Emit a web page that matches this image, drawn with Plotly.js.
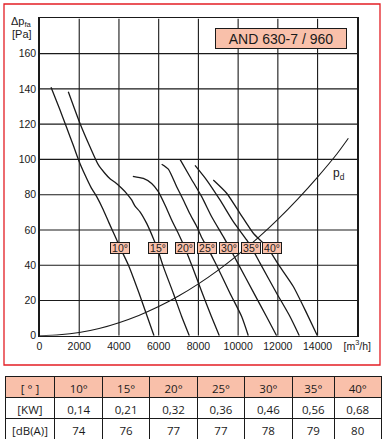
<!DOCTYPE html>
<html>
<head>
<meta charset="utf-8">
<script src="https://cdn.plot.ly/plotly-3.0.1.min.js"></script>
<style>html,body{margin:0;padding:0;background:#fff;}#chart{width:385px;height:443px;}</style>
</head>
<body>
<div id="chart"></div>
<script>
// ---- data ----
const angles = ["10°", "15°", "20°", "25°", "30°", "35°", "40°"];
const kw = ["0,14", "0,21", "0,32", "0,36", "0,46", "0,56", "0,68"];
const dba = ["74", "76", "77", "77", "78", "79", "80"];

const q10 = [580, 1000, 1370, 1700, 1955, 2300, 2600, 2900, 3210, 3500, 3800, 4100, 4480, 5000, 5420, 5765];
const p10 = [141, 129, 118, 108, 100, 91, 84, 78.5, 71.5, 64, 56.5, 49, 40, 24.5, 11, 0];
const q15 = [1450, 2040, 2540, 2960, 3300, 3550, 3800, 4137, 4400, 4640, 4810, 5060, 5396, 5731, 5950, 6234, 6737, 7157, 7543];
const p15 = [138.4, 120.4, 107.2, 97, 92, 89, 87, 83.6, 80.5, 77, 73.5, 70.3, 63.7, 55.2, 49, 39.2, 24.1, 10.9, 0];
const q20 = [4700, 5228, 5647, 5983, 6319, 6654, 6990, 7330, 7700, 8150, 8650, 9053];
const p20 = [90.4, 89.2, 86.4, 81.7, 74.1, 65.6, 58, 49.5, 39, 25.5, 11, 0];
const q25 = [6150, 6486, 6906, 7241, 7577, 7913, 8200, 8500, 8870, 9590, 10178, 10513];
const p25 = [97.3, 94.5, 84.5, 77, 69, 62, 55, 49, 41, 24.1, 10.9, 0];
const q30 = [7075, 7577, 8164, 8668, 9255, 9560, 9990, 10800, 11420, 11939];
const p30 = [100, 90.2, 78.9, 67.5, 56.2, 50, 41, 24, 11, 0];
const q35 = [7830, 8416, 9087, 9758, 10430, 10700, 11110, 11939, 12610, 13080];
const p35 = [96.6, 88.3, 77, 64.7, 54.3, 49.5, 41, 24.1, 10.9, 0];
const q40 = [8750, 9423, 10094, 10765, 11269, 11600, 12050, 12778, 13449, 13990];
const p40 = [88.3, 80.8, 69.4, 58.1, 52.4, 48, 40, 27.9, 12.8, 0];

const qd = [0, 1000, 2000, 3000, 4000, 5000, 6000, 7000, 8000, 9000, 10000, 11000, 12000, 13000, 14000, 15000, 15550];
const pd = [0, 0.5, 1.8, 4.1, 7.4, 11.5, 16.5, 22.5, 29.4, 37.2, 46, 55.5, 66, 77.5, 90, 103.5, 112];

const xTicks = [0, 2000, 4000, 6000, 8000, 10000, 12000, 14000, 16000];
const xTickText = ["0", "2000", "4000", "6000", "8000", "10000", "12000", "14000", "[m<sup>3</sup>/h]"];
const yTicks = [0, 20, 40, 60, 80, 100, 120, 140, 160];

const labelQ = [4060, 5950, 7330, 8420, 9560, 10635, 11725];
const labelP = 50;

// ---- styling ----
const W = 385, H = 443;
const salmon = "#f9c0aa";
const ink = "#1a1a1a";
const font = "Liberation Sans, Arial, sans-serif";
const X0 = 0, X1 = 16000, Y0 = 0, Y1 = 180;

const curves = [[q10,p10],[q15,p15],[q20,p20],[q25,p25],[q30,p30],[q35,p35],[q40,p40]];
const traces = curves.map((c, i) => ({
  type: "scatter", mode: "lines", x: c[0], y: c[1], name: angles[i],
  line: {color: ink, width: 1.3, shape: "spline", smoothing: 0.6},
  hoverinfo: "skip", showlegend: false, xaxis: "x", yaxis: "y"
}));
traces.push({
  type: "scatter", mode: "lines", x: qd, y: pd, name: "pd",
  line: {color: ink, width: 1.1, shape: "spline", smoothing: 0.6},
  hoverinfo: "skip", showlegend: false
});

// table
const headerVals = ["[ ° ]"].concat(angles);
const cellVals = [["[KW]", "[dB(A)]"]];
angles.forEach((a, i) => cellVals.push([kw[i], dba[i]]));
traces.push({
  type: "table",
  domain: {x: [5/W, 381.7/W], y: [1 - 439/H, 1 - 376/H]},
  columnwidth: [50, 47.7, 47.3, 47.7, 47.3, 47.7, 42.3, 46.7],
  header: {
    values: headerVals,
    fill: {color: salmon},
    line: {color: ink, width: 1},
    align: "center",
    height: 21,
    font: {family: "Open Sans, Noto Sans, sans-serif", size: 11.5, color: ink}
  },
  cells: {
    values: cellVals,
    fill: {color: "#ffffff"},
    line: {color: ink, width: 1},
    align: "center",
    height: 21,
    font: {family: "Open Sans, Noto Sans, sans-serif", size: 11.5, color: ink}
  }
});

const annotations = angles.map((a, i) => ({
  x: labelQ[i], y: labelP, xref: "x", yref: "y", text: a, showarrow: false,
  xanchor: "center", yanchor: "middle",
  font: {family: font, size: 10.5, color: ink},
  bgcolor: salmon, bordercolor: ink, borderwidth: 1, borderpad: 0,
  width: 18, height: 10
}));
annotations.push({
  x: 12140, y: 168.4, xref: "x", yref: "y", text: "AND 630-7 / 960", showarrow: false,
  xanchor: "center", yanchor: "middle",
  font: {family: font, size: 14, color: ink},
  bgcolor: salmon, bordercolor: ink, borderwidth: 1, borderpad: 0,
  width: 130, height: 19
});
annotations.push({
  x: 15080, y: 92, xref: "x", yref: "y", text: "p<sub>d</sub>", showarrow: false,
  xanchor: "center", yanchor: "middle",
  font: {family: font, size: 12, color: ink}
});
annotations.push({
  x: 21/W, y: 1 - 22/H, xref: "paper", yref: "paper", text: "Δp<sub>fa</sub>", showarrow: false,
  xanchor: "center", yanchor: "middle",
  font: {family: font, size: 11, color: ink}
});
annotations.push({
  x: 21.5/W, y: 1 - 34.5/H, xref: "paper", yref: "paper", text: "[Pa]", showarrow: false,
  xanchor: "center", yanchor: "middle",
  font: {family: font, size: 11, color: ink}
});

// grid lines placed through the axes' own data scale
const gridShapes = [];
xTicks.slice(1, -1).forEach(v => gridShapes.push({
  type: "line", xref: "x", yref: "y", x0: v, x1: v, y0: Y0, y1: Y1,
  line: {color: ink, width: 1.1}, layer: "below"
}));
yTicks.slice(1).forEach(v => gridShapes.push({
  type: "line", xref: "x", yref: "y", x0: X0, x1: X1, y0: v, y1: v,
  line: {color: ink, width: 1.1}, layer: "below"
}));

const layout = {
  width: W, height: H,
  margin: {l: 0, r: 0, t: 0, b: 0},
  paper_bgcolor: "#ffffff", plot_bgcolor: "#ffffff",
  showlegend: false,
  xaxis: {
    domain: [39.5/W, 357.3/W], range: [X0, X1],
    tickmode: "array", tickvals: xTicks, ticktext: xTickText,
    showgrid: false,
    showline: true, mirror: true, linecolor: ink, linewidth: 1.2,
    zeroline: false, ticks: "", fixedrange: true,
    tickfont: {family: font, size: 10.5, color: ink}
  },
  yaxis: {
    domain: [1 - 335.7/H, 1 - 18.4/H], range: [Y0, Y1],
    tickmode: "array", tickvals: yTicks,
    showgrid: false,
    showline: true, mirror: true, linecolor: ink, linewidth: 1.2,
    zeroline: false, ticks: "", fixedrange: true,
    tickfont: {family: font, size: 10.5, color: ink}
  },
  shapes: gridShapes.concat([{
    type: "rect", xref: "paper", yref: "paper",
    x0: 4/W, x1: 380/W, y0: 1 - 365/H, y1: 1 - 4/H,
    line: {color: "#e31e24", width: 1.3}, fillcolor: "rgba(0,0,0,0)", layer: "below"
  }]),
  annotations: annotations
};

Plotly.newPlot("chart", traces, layout, {staticPlot: true, displayModeBar: false});
</script>
</body>
</html>
